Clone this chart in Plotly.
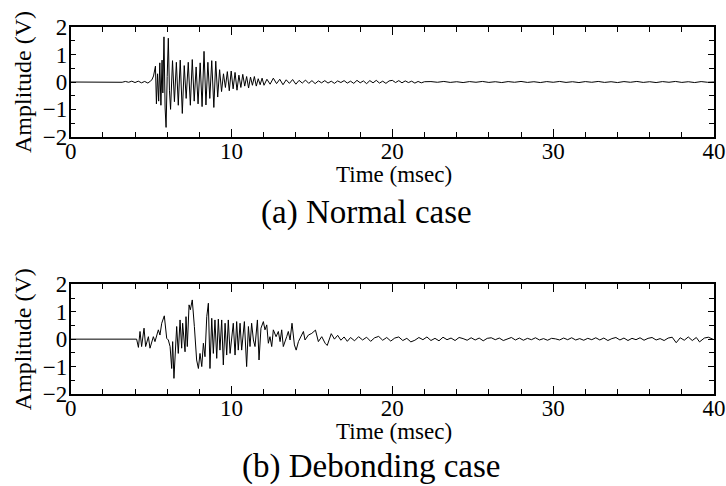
import plotly.graph_objects as go

# ---- (a) Normal case: sampled waveform (time in msec, amplitude in V) ----
normal_t = [
    0.0, 2.8, 3.0, 3.2, 3.4, 3.6, 3.8, 4.0, 4.2, 4.4, 4.6, 4.8, 4.95,
    5.05, 5.15, 5.22, 5.27, 5.33, 5.40, 5.47, 5.54, 5.61, 5.68, 5.73, 5.80,
    5.87, 5.93, 6.00, 6.07, 6.14, 6.21, 6.33, 6.45, 6.57, 6.69, 6.81, 6.94,
    7.06, 7.18, 7.31, 7.44, 7.56, 7.68, 7.80, 7.92, 8.05, 8.17, 8.29, 8.41,
    8.53, 8.65, 8.77, 8.90, 9.02, 9.14, 9.26, 9.38, 9.50, 9.62, 9.74, 9.86,
    9.98, 10.10, 10.22, 10.34, 10.46, 10.58, 10.70, 10.82, 10.94, 11.06,
    11.18, 11.30, 11.42, 11.54, 11.66, 11.78, 11.90, 12.02,
    12.2, 12.4, 12.6, 12.8, 13.0, 13.2, 13.4, 13.6, 13.8, 14.0, 14.2, 14.4,
    14.6, 14.8, 15.0, 15.2, 15.4, 15.6, 15.8, 16.0, 16.2, 16.4, 16.6, 16.8,
    17.0, 17.2, 17.4, 17.6, 17.8, 18.0, 18.2, 18.4, 18.6, 18.8, 19.0, 19.2,
    19.4, 19.6, 19.8, 20.0, 20.2, 20.4, 20.6, 20.8, 21.0, 21.2, 21.4, 21.6,
    21.8, 22.0, 22.4, 22.8, 23.2, 23.6, 24.0, 24.4, 24.8, 25.2, 25.6, 26.0,
    26.4, 26.8, 27.2, 27.6, 28.0, 28.4, 28.8, 29.2, 29.6, 30.0, 30.4, 30.8,
    31.2, 31.6, 32.0, 32.4, 32.8, 33.2, 33.6, 34.0, 34.4, 34.8, 35.2, 35.6,
    36.0, 36.4, 36.8, 37.2, 37.6, 38.0, 38.4, 38.8, 39.2, 39.6, 40.0,
]
normal_v = [
    0.0, 0.0, 0.01, -0.01, 0.02, -0.01, 0.03, -0.02, 0.03, -0.03, 0.02, -0.04, 0.03,
    0.08, 0.22, 0.45, 0.58, -0.80, 0.30, -0.70, 0.70, -0.85, 0.80, -0.40, 1.65,
    -0.95, -1.66, 0.20, 1.60, -0.30, -1.00, 0.78, -0.72, 0.72, -0.85, 0.80, -1.15,
    0.60, -0.60, 0.72, -0.85, 0.82, -0.70, 0.55, -0.80, 0.70, -0.90, 1.12, -0.84,
    0.72, -0.60, 0.78, -0.93, 0.76, -0.55, 0.45, -0.35, 0.30, -0.20, 0.38, -0.32,
    0.40, -0.25, 0.35, -0.30, 0.25, -0.20, 0.28, -0.15, 0.20, -0.22,
    0.18, -0.12, 0.20, -0.15, 0.12, -0.10, 0.14, -0.12,
    0.10, -0.08, 0.14, -0.06, 0.10, -0.10, 0.08, -0.05, 0.09, -0.08, 0.06, -0.04,
    0.07, -0.05, 0.05, -0.06, 0.04, -0.03, 0.05, -0.04, 0.03, -0.05, 0.04, -0.02,
    0.05, -0.04, 0.03, -0.05, 0.06, -0.03, 0.04, -0.06, 0.05, -0.03, 0.06, -0.04,
    0.03, -0.05, 0.04, 0.06, -0.02, 0.05, -0.03, 0.04, -0.02, 0.03, -0.04, 0.02,
    -0.03, 0.01, 0.015, -0.01, 0.02, -0.015, 0.01, -0.02, 0.015, -0.01, 0.02, -0.015,
    0.01, -0.02, 0.015, -0.01, 0.02, -0.015, 0.01, -0.02, 0.015, -0.01, 0.02, -0.015,
    0.01, -0.02, 0.015, -0.01, 0.02, -0.015, 0.01, -0.02, 0.015, -0.01, 0.02, -0.015,
    0.01, -0.02, 0.015, -0.01, 0.02, -0.015, 0.01, -0.02, 0.015, -0.01, 0.0,
]

# ---- (b) Debonding case ----
debond_t = [
    0.0, 4.10, 4.21, 4.31, 4.41, 4.56, 4.66, 4.83, 4.93, 5.14, 5.24, 5.45,
    5.55, 5.66, 5.82, 5.97, 6.07, 6.18, 6.28, 6.34, 6.42, 6.53, 6.59, 6.69,
    6.80, 6.90, 6.96, 7.11, 7.17, 7.25, 7.36, 7.44, 7.56, 7.69, 7.83, 7.94,
    8.04, 8.15, 8.25, 8.35, 8.46, 8.56, 8.66, 8.77, 8.87, 8.97, 9.08, 9.18,
    9.28, 9.39, 9.49, 9.60, 9.70, 9.80, 9.91, 10.11, 10.22, 10.32, 10.42,
    10.53, 10.63, 10.80, 10.94, 11.05, 11.15, 11.25, 11.36, 11.46, 11.61,
    11.71, 11.83, 11.98, 12.08, 12.19, 12.29, 12.39, 12.50, 12.60, 12.77,
    12.91, 13.02, 13.12, 13.22, 13.43, 13.53, 13.64, 13.76, 13.91, 14.02,
    14.16, 14.32, 14.47, 14.57, 14.78, 14.99, 15.22, 15.40, 15.61, 15.82,
    15.95, 16.2, 16.4, 16.6, 16.8, 17.0, 17.2, 17.4, 17.65, 17.9, 18.15,
    18.4, 18.65, 18.9, 19.15, 19.4, 19.65, 19.9, 20.15, 20.4, 20.65, 20.9,
    21.15, 21.4, 21.65, 21.9, 22.15, 22.4, 22.65, 22.9, 23.15, 23.4, 23.65,
    23.9, 24.15, 24.4, 24.65, 24.9, 25.15, 25.4, 25.65, 25.9, 26.15, 26.4,
    26.65, 26.9, 27.15, 27.4, 27.65, 27.9, 28.15, 28.4, 28.65, 28.9, 29.15,
    29.4, 29.65, 29.9, 30.15, 30.4, 30.65, 30.9, 31.15, 31.4, 31.65, 31.9,
    32.15, 32.4, 32.65, 32.9, 33.15, 33.4, 33.65, 33.9, 34.15, 34.4, 34.65,
    34.9, 35.15, 35.4, 35.65, 35.9, 36.15, 36.4, 36.65, 36.9, 37.15, 37.4,
    37.65, 37.9, 38.15, 38.4, 38.65, 38.9, 39.1, 39.4, 39.65, 40.0,
]
debond_v = [
    0.0, 0.0, -0.30, 0.28, -0.27, 0.40, -0.27, 0.09, -0.33, 0.09, -0.09, 0.34,
    0.15, 0.58, 0.85, 0.03, -0.03, -0.27, -1.07, -0.09, -1.43, -0.27, 0.46, -0.52,
    0.70, -0.33, 0.58, -0.46, 0.82, -0.27, 1.25, 1.07, 1.43, 0.46, -0.76, -1.07,
    -0.52, -1.00, -0.15, -0.64, 0.82, 1.31, -1.07, 0.76, -0.52, 0.70, -0.70, 0.73,
    -0.40, 0.70, -0.94, 0.58, -0.58, 0.70, -0.52, 0.58, -0.58, 0.64, -0.40,
    0.58, -0.40, 0.64, -1.00, 0.46, -0.27, 0.58, -0.03, -0.27, 0.70,
    -0.76, 0.40, 0.64, 0.34, 0.52, -0.15, 0.09, -0.27, 0.34, 0.09,
    0.28, -0.09, 0.34, -0.27, 0.09, 0.28, -0.03, 0.58, -0.21, -0.40,
    -0.09, 0.09, 0.28, -0.03, 0.15, 0.21, 0.33, -0.09, 0.09, -0.15,
    -0.23, 0.20, 0.0, 0.14, -0.04, 0.08, -0.08, 0.06, -0.06, 0.09, -0.03,
    0.07, -0.08, 0.05, 0.10, -0.04, 0.06, -0.07, 0.04, 0.08, -0.05, 0.03,
    -0.10, -0.04, 0.06, -0.02, 0.08, -0.05, 0.03, -0.06, 0.07, -0.02, 0.04,
    -0.05, 0.06, 0.02, -0.04, 0.05, -0.03, 0.04, -0.06, 0.03, 0.05, -0.02,
    0.04, -0.05, 0.02, 0.06, -0.03, 0.04, -0.04, 0.03, -0.02, 0.05, -0.03,
    0.02, -0.04, 0.03, 0.01, -0.03, 0.04, -0.02, 0.05, -0.03, 0.02, -0.04,
    0.03, -0.02, 0.05, -0.03, 0.04, -0.05, 0.02, 0.06, -0.03, 0.04, -0.05,
    0.03, -0.02, 0.05, -0.04, 0.03, 0.06, -0.03, 0.02, -0.05, 0.04, 0.07,
    -0.13, 0.05, -0.04, 0.08, -0.05, 0.06, -0.10, 0.04, 0.07, -0.02,
]

x_ticks = [0, 10, 20, 30, 40]
y_ticks = [-2, -1, 0, 1, 2]
captions = ["(a) Normal case", "(b) Debonding case"]
x_title = "Time (msec)"
y_title = "Amplitude (V)"

SERIF = "'Times New Roman', 'Liberation Serif', 'DejaVu Serif', serif"
L, R = 70.7 / 726, 714 / 726
H = 486

fig = go.Figure()
fig.add_trace(go.Scatter(x=normal_t, y=normal_v, mode="lines",
                         line=dict(color="black", width=1), xaxis="x", yaxis="y",
                         showlegend=False))
fig.add_trace(go.Scatter(x=debond_t, y=debond_v, mode="lines",
                         line=dict(color="black", width=1), xaxis="x2", yaxis="y2",
                         showlegend=False))


def xaxis(anchor):
    return dict(
        domain=[L, R], anchor=anchor, range=[0, 40], tickvals=x_ticks,
        ticks="inside", ticklen=8, tickwidth=1.2, tickcolor="black",
        showline=True, linecolor="black", linewidth=1.5, mirror="allticks",
        showgrid=False, zeroline=False, automargin=False,
        ticklabelstandoff=-7,
        minor=dict(dtick=2, ticks="inside", ticklen=5, tickwidth=1.2,
                   tickcolor="black", showgrid=False),
        tickfont=dict(family=SERIF, size=23, color="black"),
    )


def yaxis(anchor, dom):
    return dict(
        domain=dom, anchor=anchor, range=[-2, 2], tickvals=y_ticks,
        ticks="inside", ticklen=6, tickwidth=1.2, tickcolor="black",
        showline=True, linecolor="black", linewidth=1.5, mirror="allticks",
        showgrid=False, zeroline=False, automargin=False,
        ticklabelstandoff=-3,
        minor=dict(dtick=0.5, ticks="inside", ticklen=5, tickwidth=1.2,
                   tickcolor="black", showgrid=False),
        tickfont=dict(family=SERIF, size=23, color="black"),
        title=dict(text=y_title, font=dict(family=SERIF, size=24, color="black"),
                   standoff=4),
    )


def label(text, cx, cy, size):
    # text centred on a pixel position of the page
    return dict(text=text, x=cx / 726, y=(H - cy) / H, xref="paper",
                yref="paper", showarrow=False, xanchor="center",
                yanchor="middle", font=dict(family=SERIF, size=size, color="black"))


fig.update_layout(
    width=726, height=H,
    margin=dict(l=0, r=0, t=0, b=0),
    paper_bgcolor="white", plot_bgcolor="white",
    xaxis=xaxis("y"),
    yaxis=yaxis("x", [(H - 136.7) / H, (H - 27.3) / H]),
    xaxis2=xaxis("y2"),
    yaxis2=yaxis("x2", [(H - 394) / H, (H - 284.3) / H]),
    annotations=[
        label(x_title, 394, 174, 23),
        label(x_title, 394, 431, 23),
        label(captions[0], 366, 213, 33),
        label(captions[1], 371, 466, 33),
    ],
)

fig.write_html("out.html")
